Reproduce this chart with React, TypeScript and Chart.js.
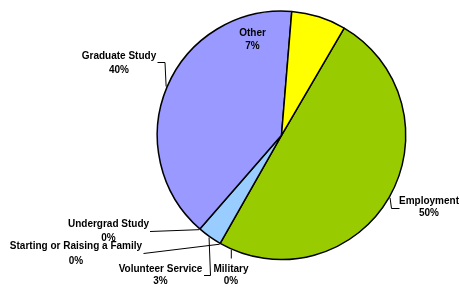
import React, { useEffect, useRef } from "react";
import { Chart, registerables } from "chart.js";

Chart.register(...registerables);

const categories = [
  "Employment",
  "Military",
  "Starting or Raising a Family",
  "Volunteer Service",
  "Undergrad Study",
  "Graduate Study",
  "Other",
];
const shares = [49.8, 0, 0, 3.2, 0, 39.9, 7.1];
const sliceColors = ["#99CC00", "#993366", "#FFFFCC", "#99CCFF", "#CCFFFF", "#9999FF", "#FFFF00"];

// label placement: text centre x, first line y, second line y, leader polyline start (then to arc)
type LabelSpec = {
  x: number;
  y1: number;
  y2: number;
  leader?: number[][];
  vertical?: boolean;
};
const labelSpecs: LabelSpec[] = [
  { x: 429, y1: 201, y2: 213.5, leader: [[399.5, 208.5], [391.5, 208.5]] },
  { x: 231, y1: 269.5, y2: 281.5, leader: [[231.3, 258.5]], vertical: true },
  { x: 76, y1: 246, y2: 261, leader: [[143.5, 253.5]] },
  { x: 160.5, y1: 269.5, y2: 281.5, leader: [[204, 275.5], [210.5, 275.5]] },
  { x: 108.5, y1: 224.5, y2: 238, leader: [[150, 231.5]] },
  { x: 119, y1: 56, y2: 70, leader: [[157.5, 62.5], [165, 62.5]] },
  { x: 252.5, y1: 33, y2: 46 },
];

const labelPlugin = {
  id: "sliceLabels",
  afterDraw(chart: any) {
    const ctx = chart.ctx;
    const meta = chart.getDatasetMeta(0);
    ctx.save();
    ctx.font = "bold 10px 'Liberation Sans', Arial, sans-serif";
    ctx.fillStyle = "#000";
    ctx.textAlign = "center";
    ctx.textBaseline = "middle";
    ctx.strokeStyle = "#000";
    ctx.lineWidth = 1;
    labelSpecs.forEach((spec, i) => {
      const arc: any = meta.data[i];
      if (!arc) return;
      const { x, y, startAngle, endAngle, outerRadius } = arc.getProps(
        ["x", "y", "startAngle", "endAngle", "outerRadius"],
        true
      );
      if (spec.leader) {
        const pts = spec.leader.slice();
        let tx: number, ty: number;
        if (spec.vertical) {
          const sx = pts[0][0];
          tx = sx;
          ty = y + Math.sqrt(Math.max(outerRadius * outerRadius - (sx - x) * (sx - x), 0)) + 1;
        } else {
          const mid = (startAngle + endAngle) / 2;
          tx = x + Math.cos(mid) * (outerRadius + 1);
          ty = y + Math.sin(mid) * (outerRadius + 1);
        }
        ctx.beginPath();
        ctx.moveTo(pts[0][0], pts[0][1]);
        for (let k = 1; k < pts.length; k++) ctx.lineTo(pts[k][0], pts[k][1]);
        ctx.lineTo(tx, ty);
        ctx.stroke();
      }
      ctx.fillText(categories[i], spec.x, spec.y1);
      ctx.fillText(Math.round(shares[i]) + "%", spec.x, spec.y2);
    });
    ctx.restore();
  },
};

export default function App() {
  const ref = useRef<HTMLCanvasElement | null>(null);
  useEffect(() => {
    if (!ref.current) return;
    const chart = new Chart(ref.current, {
      type: "pie",
      data: {
        labels: categories,
        datasets: [
          {
            data: shares,
            backgroundColor: sliceColors,
            borderColor: "#000",
            borderWidth: 1.5,
          },
        ],
      },
      options: {
        responsive: false,
        animation: false,
        rotation: 30.3,
        layout: { padding: { left: 156.5, top: 10.3, right: 52.5, bottom: 26.7 } },
        plugins: {
          legend: { display: false },
          tooltip: { enabled: false },
        },
      },
      plugins: [labelPlugin],
    });
    return () => chart.destroy();
  }, []);
  return (
    <div style={{ position: "absolute", left: 0, top: 0, width: 459, height: 287, background: "#fff" }}>
      <canvas ref={ref} width={459} height={287} />
    </div>
  );
}
